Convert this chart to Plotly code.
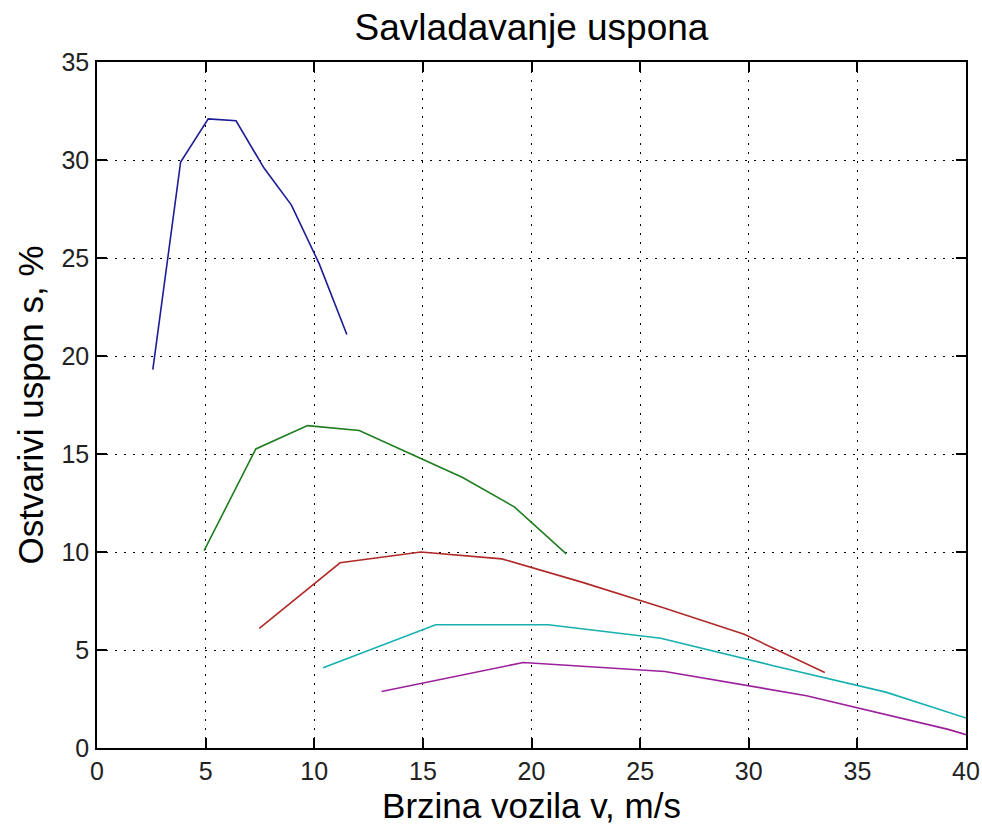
import plotly.graph_objects as go

# brzina vozila v (m/s) i ostvarivi uspon s (%) po stupnjevima prijenosa
v_1 = [2.57, 3.85, 5.12, 6.40, 7.68, 8.95, 10.23, 11.50]
s_1 = [19.3, 29.9, 32.1, 32.0, 29.6, 27.7, 24.7, 21.1]

v_2 = [4.93, 7.31, 9.69, 12.07, 14.45, 16.83, 19.21, 21.60]
s_2 = [10.07, 15.26, 16.45, 16.2, 15.0, 13.8, 12.3, 9.9]

v_3 = [7.47, 11.19, 14.91, 18.63, 22.35, 26.07, 29.79, 33.50]
s_3 = [6.1, 9.45, 10.0, 9.65, 8.45, 7.15, 5.8, 3.85]

v_4 = [10.41, 15.59, 20.77, 25.95, 31.13, 36.31, 41.49]
s_4 = [4.1, 6.29, 6.29, 5.6, 4.2, 2.85, 1.0]

v_5 = [13.10, 19.62, 26.14, 32.66, 39.18, 45.70]
s_5 = [2.88, 4.36, 3.9, 2.67, 0.95, -1.2]

x_ticks = [0, 5, 10, 15, 20, 25, 30, 35, 40]
y_ticks = [0, 5, 10, 15, 20, 25, 30, 35]

serije = [
    (v_1, s_1, "#1c1c96"),
    (v_2, s_2, "#1e7d1e"),
    (v_3, s_3, "#b02a2a"),
    (v_4, s_4, "#17b0b0"),
    (v_5, s_5, "#9c1f9c"),
]

FONT = "Liberation Sans, Arial, sans-serif"

fig = go.Figure()
for v, s, boja in serije:
    fig.add_scatter(x=v, y=s, mode="lines", line=dict(color=boja, width=1.6),
                    showlegend=False)

os_stil = dict(
    showline=True, linecolor="black", linewidth=1.5, mirror="ticks",
    ticks="inside", ticklen=10, tickcolor="black", tickwidth=1.5,
    showgrid=True, gridcolor="black", griddash="2px,7px", gridwidth=1,
    zeroline=False, automargin=False,
    tickfont=dict(family=FONT, size=25, color="#222"),
)

fig.update_xaxes(range=[0, 40], tickvals=x_ticks, ticklabelstandoff=0,
                 title=dict(text="Brzina vozila v, m/s", standoff=10,
                            font=dict(family=FONT, size=35, color="black")),
                 **os_stil)
fig.update_yaxes(range=[0, 35], tickvals=y_ticks, ticklabelstandoff=1,
                 title=dict(text="Ostvarivi uspon s, %", standoff=7,
                            font=dict(family=FONT, size=35, color="black")),
                 **os_stil)

fig.update_layout(
    width=982, height=830,
    margin=dict(l=97, r=16, t=62, b=82),
    paper_bgcolor="white", plot_bgcolor="white",
    title=dict(text="Savladavanje uspona", xref="paper", x=0.5, xanchor="center",
               y=0.967, yanchor="middle",
               font=dict(family=FONT, size=37, color="black")),
)

# bez zadane margine stranice, da slika stane točno u prozor
fig.write_html("out.html", config={"displayModeBar": False},
               post_script="document.body.style.margin='0';")
